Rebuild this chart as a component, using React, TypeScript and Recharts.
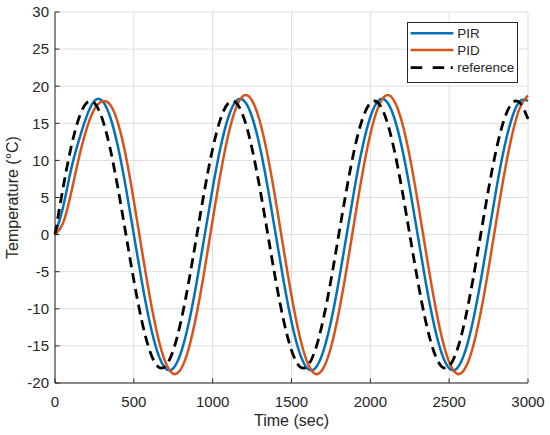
import React from 'react';
import { LineChart, Line, XAxis, YAxis, CartesianGrid, Legend } from 'recharts';

// time axis (sec), sampled every 50 s
const TIME = [
  0, 50, 100, 150, 200, 250, 300, 350, 400, 450, 500, 550, 600, 650, 700, 750, 800, 850, 900, 950,
  1000, 1050, 1100, 1150, 1200, 1250, 1300, 1350, 1400, 1450, 1500, 1550, 1600, 1650, 1700, 1750, 1800, 1850, 1900, 1950,
  2000, 2050, 2100, 2150, 2200, 2250, 2300, 2350, 2400, 2450, 2500, 2550, 2600, 2650, 2700, 2750, 2800, 2850, 2900, 2950,
  3000,
];

// PIR controller response (°C)
const PIR = [
  0, 3.6, 8.6, 12.6, 15.9, 18.02, 18.02, 15.85, 11.76, 6.26, 0, -6.26, -11.76, -15.85, -18.02, -18.02, -15.85, -11.76, -6.26,
  0, 6.26, 11.76, 15.85, 18.02, 18.02, 15.85, 11.76, 6.26, 0, -6.26, -11.76, -15.85, -18.02, -18.02, -15.85, -11.76, -6.26,
  0, 6.26, 11.76, 15.85, 18.02, 18.02, 15.85, 11.76, 6.26, 0, -6.26, -11.76, -15.85, -18.02, -18.02, -15.85, -11.76, -6.26,
  0, 6.26, 11.76, 15.85, 18.02, 18.02,
];

// PID controller response (°C)
const PID = [
  0, 1.5, 5.4, 10.2, 14.2, 16.9, 17.95, 17.5, 15.0,
  10.51, 4.55, -1.97, -8.23, -13.52, -17.18, -18.76, -18.07, -15.21,
  -10.51, -4.55, 1.97, 8.23, 13.52, 17.18, 18.76, 18.07, 15.21, 10.51, 4.55, -1.97, -8.23, -13.52, -17.18, -18.76, -18.07, -15.21,
  -10.51, -4.55, 1.97, 8.23, 13.52, 17.18, 18.76, 18.07, 15.21, 10.51, 4.55, -1.97, -8.23, -13.52, -17.18, -18.76, -18.07, -15.21,
  -10.51, -4.55, 1.97, 8.23, 13.52, 17.18, 18.76,
];

// reference temperature (°C)
const REF = [
  0, 6.16, 11.57, 15.59, 17.73, 17.73, 15.59, 11.57, 6.16, 0, -6.16, -11.57, -15.59, -17.73, -17.73, -15.59, -11.57, -6.16,
  0, 6.16, 11.57, 15.59, 17.73, 17.73, 15.59, 11.57, 6.16, 0, -6.16, -11.57, -15.59, -17.73, -17.73, -15.59, -11.57, -6.16,
  0, 6.16, 11.57, 15.59, 17.73, 17.73, 15.59, 11.57, 6.16, 0, -6.16, -11.57, -15.59, -17.73, -17.73, -15.59, -11.57, -6.16,
  0, 6.16, 11.57, 15.59, 17.73, 17.73, 15.59,
];

const X_TICKS = [0, 500, 1000, 1500, 2000, 2500, 3000];
const Y_TICKS = [-20, -15, -10, -5, 0, 5, 10, 15, 20, 25, 30];
const LEGEND_NAMES = ['PIR', 'PID', 'reference'];

const FONT = '"Liberation Sans", Arial, Helvetica, sans-serif';
const AXIS = '#262626';
const GRID = '#dedede';
const BLUE = '#0072BD';
const ORANGE = '#D95319';
const DASH = '10 6';

const rows = TIME.map((t, i) => ({ t, pir: PIR[i], pid: PID[i], ref: REF[i] }));

function LegendBox() {
  const colors = [BLUE, ORANGE, '#000'];
  const rowY = [11.3, 28, 45.7];
  return (
    <svg width={111} height={61} style={{ display: 'block' }}>
      <rect x={0.5} y={0.5} width={110} height={60} fill="#fff" stroke={AXIS} strokeWidth={1} />
      {LEGEND_NAMES.map((name, i) => (
        <g key={name}>
          <line
            x1={3.7}
            x2={i === 2 ? 47.5 : 46.3}
            y1={rowY[i]}
            y2={rowY[i]}
            stroke={colors[i]}
            strokeWidth={i === 2 ? 2.8 : 2.5}
            strokeDasharray={i === 2 ? '11.5 10.5 11.5 6.5 2 20' : undefined}
          />
          <text x={50.3} y={rowY[i] + 4.7} fontSize={13.5} fontFamily={FONT} fill={AXIS}>
            {name}
          </text>
        </g>
      ))}
    </svg>
  );
}

export default function App() {
  return (
    <div style={{ position: 'fixed', left: 0, top: 0, width: 550, height: 435, background: '#fff' }}>
      <LineChart width={550} height={435} data={rows} margin={{ top: 12, right: 22, bottom: 0, left: 0 }}>
        <CartesianGrid stroke={GRID} strokeWidth={1} />
        <XAxis
          dataKey="t"
          type="number"
          domain={[0, 3000]}
          ticks={X_TICKS}
          interval={0}
          height={52}
          tickSize={-4.5}
          tickMargin={18}
          axisLine={{ stroke: AXIS }}
          tickLine={{ stroke: AXIS }}
          tick={{ fill: AXIS, fontSize: 15, fontFamily: FONT }}
          label={{ value: 'Time (sec)', position: 'insideBottom', offset: 9, fill: AXIS, fontSize: 16, fontFamily: FONT }}
        />
        <XAxis
          xAxisId="top"
          orientation="top"
          dataKey="t"
          type="number"
          domain={[0, 3000]}
          ticks={X_TICKS}
          interval={0}
          height={0}
          tickSize={-4.5}
          axisLine={{ stroke: AXIS }}
          tickLine={{ stroke: AXIS }}
          tick={false}
        />
        <YAxis
          type="number"
          domain={[-20, 30]}
          ticks={Y_TICKS}
          interval={0}
          width={55}
          tickSize={-4.5}
          tickMargin={10.5}
          axisLine={{ stroke: AXIS }}
          tickLine={{ stroke: AXIS }}
          tick={{ fill: AXIS, fontSize: 15, fontFamily: FONT }}
          label={{
            value: 'Temperature (°C)',
            angle: -90,
            position: 'insideLeft',
            offset: 12.5,
            fill: AXIS,
            fontSize: 16,
            fontFamily: FONT,
            style: { textAnchor: 'middle' },
          }}
        />
        <YAxis
          yAxisId="right"
          orientation="right"
          type="number"
          domain={[-20, 30]}
          ticks={Y_TICKS}
          interval={0}
          width={0}
          tickSize={-4.5}
          axisLine={{ stroke: AXIS }}
          tickLine={{ stroke: AXIS }}
          tick={false}
        />
        <Legend
          layout="vertical"
          align="center"
          verticalAlign="middle"
          content={<LegendBox />}
          wrapperStyle={{ top: 22, left: 407, width: 111, height: 61 }}
        />
        <Line xAxisId="top" yAxisId="right" dataKey="ref" stroke="none" dot={false} activeDot={false} legendType="none" isAnimationActive={false} />
        <Line type="natural" dataKey="pir" name="PIR" stroke={BLUE} strokeWidth={2.5} dot={false} isAnimationActive={false} />
        <Line type="natural" dataKey="pid" name="PID" stroke={ORANGE} strokeWidth={2.5} dot={false} isAnimationActive={false} />
        <Line type="natural" dataKey="ref" name="reference" stroke="#000" strokeWidth={2.8} strokeDasharray={DASH} dot={false} isAnimationActive={false} />
      </LineChart>
    </div>
  );
}
